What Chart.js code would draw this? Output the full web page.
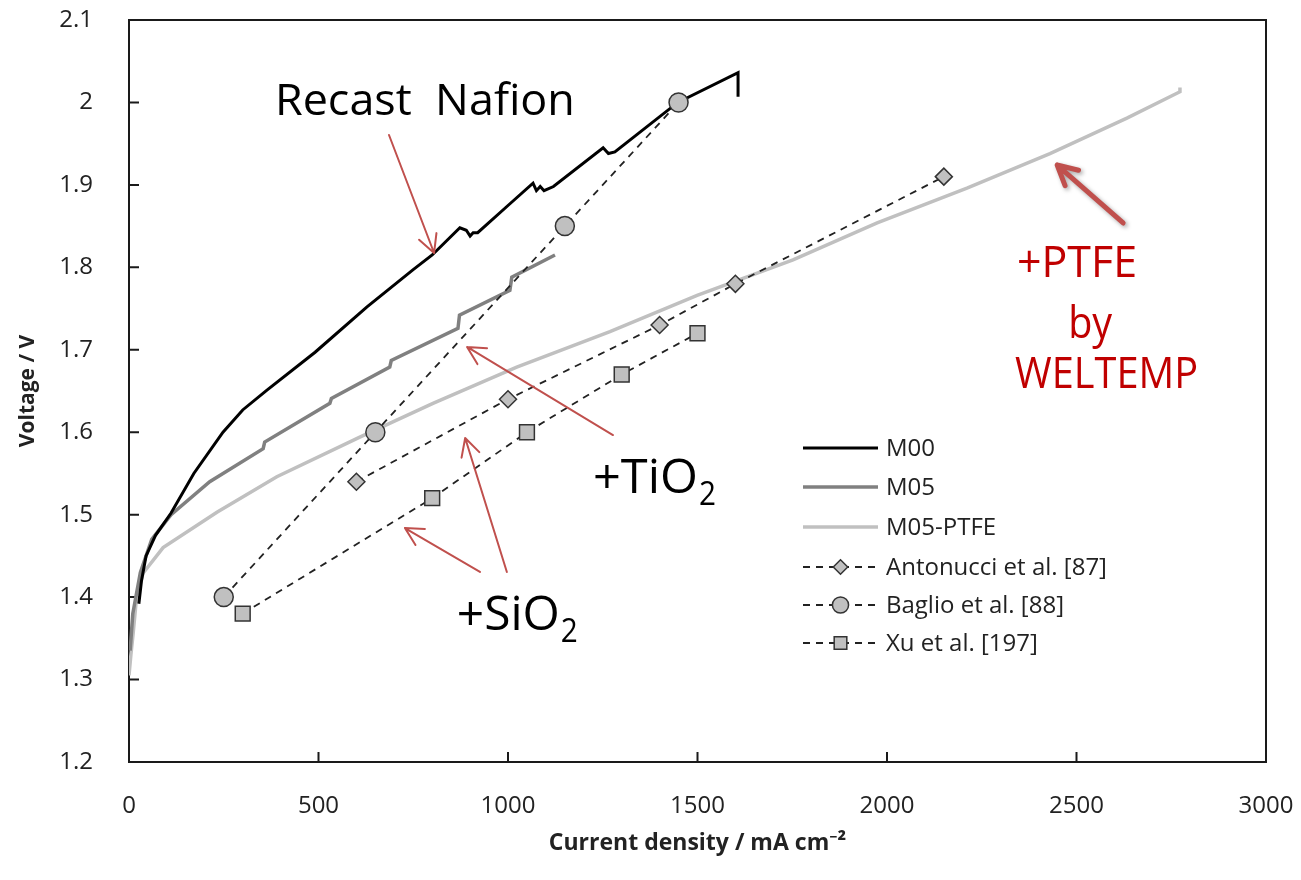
<!DOCTYPE html>
<html>
<head>
<meta charset="utf-8">
<script src="https://cdn.jsdelivr.net/npm/chart.js@4.4.1/dist/chart.umd.min.js"></script>
<style>
  html, body { margin: 0; padding: 0; background: #fff; }
</style>
</head>
<body>
<canvas id="chart" width="1301" height="880"></canvas>
<script>
// ---- data ----
const xTicks = [0, 500, 1000, 1500, 2000, 2500, 3000];
const yTicks = [1.2, 1.3, 1.4, 1.5, 1.6, 1.7, 1.8, 1.9, 2.0, 2.1];

const m00X = [26, 33, 45, 70, 111, 171, 248, 300, 364, 491, 628, 749, 800, 873, 890, 900, 908, 920, 1000, 1066, 1075, 1085, 1095, 1120, 1251, 1265, 1282, 1448, 1607, 1607];
const m00Y = [1.392, 1.42, 1.45, 1.475, 1.502, 1.55, 1.60, 1.627, 1.651, 1.697, 1.752, 1.797, 1.815, 1.848, 1.845, 1.838, 1.842, 1.842, 1.875, 1.902, 1.893, 1.898, 1.893, 1.898, 1.945, 1.938, 1.94, 2.0, 2.036, 2.007];

const m05X = [3, 10, 30, 60, 111, 213, 354, 358, 530, 534, 688, 692, 868, 872, 1005, 1010, 1124];
const m05Y = [1.335, 1.38, 1.43, 1.47, 1.50, 1.54, 1.58, 1.588, 1.635, 1.641, 1.679, 1.687, 1.726, 1.742, 1.772, 1.788, 1.815];

const ptfeX = [0, 5, 11, 20, 37, 90, 232, 390, 609, 802, 1023, 1269, 1499, 1752, 1974, 2211, 2430, 2633, 2773, 2773];
const ptfeY = [1.305, 1.33, 1.356, 1.40, 1.429, 1.46, 1.503, 1.546, 1.594, 1.635, 1.679, 1.722, 1.766, 1.809, 1.854, 1.896, 1.938, 1.981, 2.013, 2.018];

const antonucciX = [600, 1000, 1400, 1600, 2150];
const antonucciY = [1.54, 1.64, 1.73, 1.78, 1.91];

const baglioX = [250, 650, 1150, 1450];
const baglioY = [1.40, 1.60, 1.85, 2.0];

const xuX = [300, 800, 1050, 1300, 1500];
const xuY = [1.38, 1.52, 1.60, 1.67, 1.72];

const seriesNames = ['M00', 'M05', 'M05-PTFE', 'Antonucci et al. [87]', 'Baglio et al. [88]', 'Xu et al. [197]'];

function pts(xs, ys) { return xs.map((x, i) => ({ x: x, y: ys[i] })); }

const FONT = '"Open Sans", "Noto Sans", sans-serif';
const markerFill = '#c0c0c0';
const markerEdge = '#333333';

function lineSet(label, data, color, width, order) {
    return { label, data, borderColor: color, borderWidth: width, pointRadius: 0, tension: 0, order, fill: false };
}
function refSet(label, data, style, radius) {
    return {
        label, data, order: 0, fill: false, tension: 0,
        borderColor: '#222', borderWidth: 1.8, borderDash: [7, 6],
        pointStyle: style, pointRadius: radius, pointBackgroundColor: markerFill,
        pointBorderColor: markerEdge, pointBorderWidth: 1.5
    };
}

const datasets = [
    lineSet(seriesNames[0], pts(m00X, m00Y), '#000000', 3, 1),
    lineSet(seriesNames[1], pts(m05X, m05Y), '#808080', 3.5, 2),
    lineSet(seriesNames[2], pts(ptfeX, ptfeY), '#c0c0c0', 3.5, 3),
    refSet(seriesNames[3], pts(antonucciX, antonucciY), 'rectRot', 8.5),
    refSet(seriesNames[4], pts(baglioX, baglioY), 'circle', 9.5),
    refSet(seriesNames[5], pts(xuX, xuY), 'rect', 10.5)
];

// annotations, anchored in data units
const notes = [
    { text: 'Recast  Nafion', x: 385, y: 1.9848, size: 44, width: 300, color: '#000' },
    { text: '+PTFE', x: 2343, y: 1.7883, size: 44, width: 120, color: '#c00000' },
    { text: 'by', x: 2478, y: 1.7143, size: 44, width: 44, color: '#c00000' },
    { text: 'WELTEMP', x: 2338, y: 1.6536, size: 44, width: 183, color: '#c00000' }
];
const formulas = [
    { main: '+TiO', sub: '2', x: 1224, y: 1.5263, width: 105 },
    { main: '+SiO', sub: '2', x: 865, y: 1.3601, width: 103 }
];
const arrows = [
    { from: [686, 1.9605], to: [805, 1.8174] },
    { from: [1277, 1.5966], to: [892, 1.7034] },
    { from: [926, 1.4305], to: [728, 1.4838] },
    { from: [997, 1.4305], to: [887, 1.593] }
];
const ptfeArrow = { from: [2623, 1.8538], to: [2449, 1.9241] };

function drawFit(ctx, text, x, y, size, color, width) {
    ctx.save();
    ctx.font = size + 'px ' + FONT;
    ctx.fillStyle = color;
    ctx.textBaseline = 'alphabetic';
    ctx.textAlign = 'left';
    const w = ctx.measureText(text).width;
    ctx.translate(x, y);
    ctx.scale(width / w, 1);
    ctx.fillText(text, 0, 0);
    ctx.restore();
}

function drawArrow(ctx, x1, y1, x2, y2, color, lw, head) {
    const a = Math.atan2(y2 - y1, x2 - x1);
    const spread = Math.PI / 6.5;
    ctx.save();
    ctx.strokeStyle = color;
    ctx.lineWidth = lw;
    ctx.lineCap = 'round';
    ctx.lineJoin = 'round';
    ctx.beginPath();
    ctx.moveTo(x1, y1);
    ctx.lineTo(x2, y2);
    ctx.moveTo(x2 - head * Math.cos(a - spread), y2 - head * Math.sin(a - spread));
    ctx.lineTo(x2, y2);
    ctx.lineTo(x2 - head * Math.cos(a + spread), y2 - head * Math.sin(a + spread));
    ctx.stroke();
    ctx.restore();
}

const decorPlugin = {
    id: 'decor',
    beforeDatasetsDraw(chart) {
        const { ctx, chartArea: ca, scales } = chart;
        ctx.save();
        ctx.strokeStyle = '#1a1a1a';
        ctx.lineWidth = 2;
        ctx.strokeRect(ca.left, ca.top, ca.right - ca.left, ca.bottom - ca.top);
        ctx.beginPath();
        xTicks.forEach(v => {
            const px = scales.x.getPixelForValue(v);
            ctx.moveTo(px, ca.bottom);
            ctx.lineTo(px, ca.bottom - 10);
        });
        yTicks.forEach(v => {
            const py = scales.y.getPixelForValue(v);
            ctx.moveTo(ca.left, py);
            ctx.lineTo(ca.left + 10, py);
        });
        ctx.stroke();
        ctx.restore();
    },
    afterDatasetsDraw(chart) {
        const { ctx, scales } = chart;
        const X = v => scales.x.getPixelForValue(v);
        const Y = v => scales.y.getPixelForValue(v);

        notes.forEach(n => drawFit(ctx, n.text, X(n.x), Y(n.y), n.size, n.color, n.width));
        formulas.forEach(f => {
            drawFit(ctx, f.main, X(f.x), Y(f.y), 48, '#000', f.width);
            drawFit(ctx, f.sub, X(f.x) + f.width + 1, Y(f.y) + 12, 32, '#000', 17);
        });
        arrows.forEach(a => drawArrow(ctx, X(a.from[0]), Y(a.from[1]), X(a.to[0]), Y(a.to[1]), '#c0504d', 2, 20));

        ctx.save();
        ctx.shadowColor = 'rgba(0,0,0,0.35)';
        ctx.shadowBlur = 4;
        ctx.shadowOffsetX = 2;
        ctx.shadowOffsetY = 2;
        drawArrow(ctx, X(ptfeArrow.from[0]), Y(ptfeArrow.from[1]), X(ptfeArrow.to[0]), Y(ptfeArrow.to[1]), '#c0504d', 5, 22);
        ctx.restore();
    },
    afterDraw(chart) {
        // legend inside the plot
        const { ctx } = chart;
        const left = 803, right = 878, textX = 886;
        const rows = [448, 487, 527, 567, 605, 643];
        ctx.save();
        ctx.font = '24px ' + FONT;
        ctx.textBaseline = 'middle';
        ctx.fillStyle = '#222';
        chart.data.datasets.forEach((ds, i) => {
            const y = rows[i];
            ctx.save();
            ctx.strokeStyle = ds.borderColor;
            ctx.lineWidth = ds.borderWidth;
            ctx.setLineDash(ds.borderDash || []);
            ctx.beginPath();
            ctx.moveTo(left, y);
            ctx.lineTo(right, y);
            ctx.stroke();
            ctx.setLineDash([]);
            if (ds.pointStyle) {
                ctx.fillStyle = ds.pointBackgroundColor;
                ctx.strokeStyle = ds.pointBorderColor;
                ctx.lineWidth = ds.pointBorderWidth;
                Chart.helpers.drawPoint(ctx, {
                    pointStyle: ds.pointStyle, radius: ds.pointRadius * 0.85,
                    rotation: 0, borderWidth: ds.pointBorderWidth
                }, (left + right) / 2, y);
            }
            ctx.restore();
            ctx.fillText(ds.label, textX, y + 1);
        });
        ctx.restore();
    }
};

new Chart(document.getElementById('chart'), {
    type: 'line',
    data: { datasets },
    plugins: [decorPlugin],
    options: {
        responsive: false,
        animation: false,
        devicePixelRatio: 1,
        layout: { padding: { left: 0, right: 35, top: 20, bottom: 0 } },
        plugins: { legend: { display: false }, tooltip: { enabled: false } },
        scales: {
            x: {
                type: 'linear', min: 0, max: 3000,
                afterFit(s) { s.height = 118; s.paddingLeft = 0; s.paddingRight = 0; },
                afterBuildTicks(s) { s.ticks = xTicks.map(v => ({ value: v })); },
                grid: { display: false },
                border: { display: false },
                ticks: { padding: 22, color: '#222', font: { family: FONT, size: 24 }, maxRotation: 0, callback: v => String(v) },
                title: { display: true, text: 'Current density / mA cm⁻²', color: '#222', padding: { top: 0, bottom: 23 }, font: { family: FONT, size: 23, weight: 'bold' } }
            },
            y: {
                type: 'linear', min: 1.2, max: 2.1,
                afterFit(s) { s.width = 129; s.paddingTop = 0; s.paddingBottom = 0; },
                afterBuildTicks(s) { s.ticks = yTicks.map(v => ({ value: v })); },
                grid: { display: false },
                border: { display: false },
                ticks: { padding: 28, color: '#222', font: { family: FONT, size: 24 }, callback: v => String(Number(v.toFixed(1))) },
                title: { display: true, text: 'Voltage / V', color: '#222', padding: { top: 15, bottom: 0 }, font: { family: FONT, size: 21, weight: 'bold' } }
            }
        }
    }
});
</script>
</body>
</html>
